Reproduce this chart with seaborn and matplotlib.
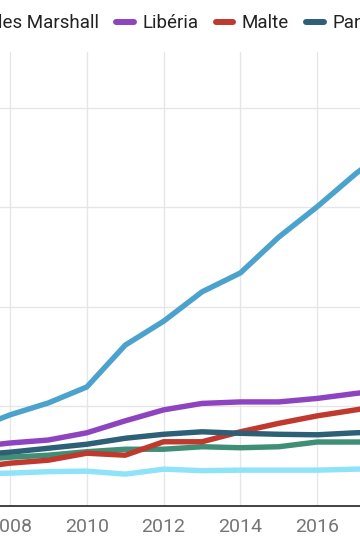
import matplotlib
matplotlib.use("Agg")
import matplotlib.pyplot as plt
import seaborn as sns
import pandas as pd
from matplotlib.lines import Line2D

# ---- data ----
years = [2007, 2008, 2009, 2010, 2011, 2012, 2013, 2014, 2015, 2016, 2017, 2018]
chypre = [6.4, 6.6, 6.9, 7.0, 6.4, 7.4, 7.1, 7.2, 7.2, 7.2, 7.4, 7.4]
grece = [9.2, 9.8, 10.2, 10.9, 11.4, 11.4, 11.9, 11.7, 11.9, 12.85, 12.85, 12.9]
marshall = [15.3, 18.3, 20.7, 23.9, 32.3, 37.1, 43.0, 46.8, 54.0, 60.1, 66.7, 72.5]
liberia = [11.8, 12.65, 13.25, 14.7, 17.1, 19.3, 20.6, 20.9, 20.9, 21.6, 22.6, 23.5]
malte = [7.6, 8.6, 9.2, 10.6, 10.2, 12.9, 12.9, 14.9, 16.6, 18.1, 19.3, 20.5]
panama = [10.2, 10.8, 11.6, 12.4, 13.6, 14.4, 14.9, 14.6, 14.4, 14.3, 14.7, 14.9]

series_names = ["Chypre", "Grèce", "Îles Marshall", "Libéria", "Malte", "Panama"]
series_values = [chypre, grece, marshall, liberia, malte, panama]
colors = ["#8fe3f8", "#3f8f77", "#4ba3cd", "#8e44bf", "#c0392e", "#2d5f76"]

x_ticks = [2008, 2010, 2012, 2014, 2016]
y_ticks = [0, 20, 40, 60, 80]

rows = []
for name, vals in zip(series_names, series_values):
    for y, v in zip(years, vals):
        rows.append({"Année": y, "Valeur": v, "Pavillon": name})
df = pd.DataFrame(rows)

sns.set_theme(style="white")
plt.rcParams["font.family"] = ["Roboto", "DejaVu Sans"]

W, H = 360, 540
fig = plt.figure(figsize=(W / 100, H / 100), dpi=100)
ax = fig.add_axes([0, (H - 506) / H, 1, (506 - 52) / H])

palette = dict(zip(series_names, colors))
sns.lineplot(data=df, x="Année", y="Valeur", hue="Pavillon", hue_order=series_names,
             palette=palette, linewidth=3.9, legend=False, ax=ax, sort=True)
for ln in ax.lines:
    ln.set_solid_joinstyle("round")
    ln.set_solid_capstyle("round")

ax.set_xticks(x_ticks)
ax.set_xticklabels([str(t) for t in x_ticks])
ax.set_yticks(y_ticks)
ax.set_xlim(2008 - 10 / 38.4, 2008 + 350 / 38.4)
ax.set_ylim(0, (506 - 52) / 4.98)
ax.tick_params(axis="x", length=0, pad=9, labelsize=14, labelcolor="#757575")
ax.tick_params(axis="y", length=0, labelleft=False)
ax.grid(True, color="#e6e6e6", linewidth=1.0)
ax.set_axisbelow(True)
for s in ["top", "left", "right"]:
    ax.spines[s].set_visible(False)
ax.spines["bottom"].set_color("#333333")
ax.spines["bottom"].set_linewidth(1.3)
ax.set_xlabel("")
ax.set_ylabel("")

handles = [Line2D([0], [0], color=c, linewidth=4.3, solid_capstyle="round") for c in colors]
leg_y = 1 - 23.5 / H
leg = fig.legend(handles, series_names, loc="center left", bbox_to_anchor=(0, leg_y),
                 ncol=len(series_names), frameon=False, fontsize=13.5,
                 handlelength=0.95, handletextpad=0.45, columnspacing=0.9,
                 labelcolor="#222222")
fig.canvas.draw()
r = fig.canvas.get_renderer()
target_text = [t for t in leg.get_texts() if t.get_text() == "Îles Marshall"][0]
bb = target_text.get_window_extent(r)
dx = 99.5 - bb.x1
leg.set_bbox_to_anchor((dx / W, leg_y), transform=fig.transFigure)

fig.savefig("out.png", dpi=100)
